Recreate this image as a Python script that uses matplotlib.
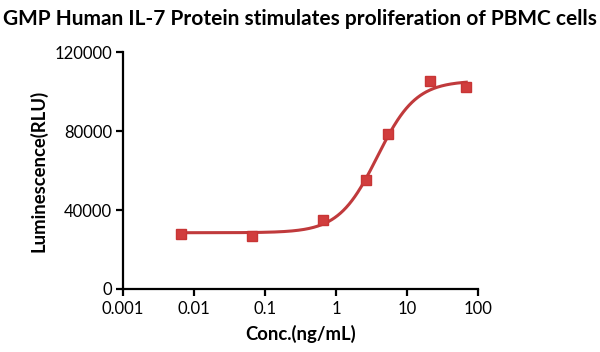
import numpy as np
import matplotlib
matplotlib.use("Agg")
import matplotlib.pyplot as plt
from matplotlib.ticker import FixedLocator, FixedFormatter, NullLocator

plt.rcParams['font.family'] = ['Lato', 'DejaVu Sans']

conc = [0.0066, 0.066, 0.66, 2.6, 5.4, 21, 68]
lum = [27900, 27000, 34900, 55200, 78500, 105300, 102300]

# 4PL fit parameters
bottom, top, ec50, hill = 28500, 105500, 3.8, 1.6

xticks = [0.001, 0.01, 0.1, 1, 10, 100]
xticklabels = ['0.001', '0.01', '0.1', '1', '10', '100']
yticks = [0, 40000, 80000, 120000]
yticklabels = ['0', '40000', '80000', '120000']

fig = plt.figure(figsize=(6, 3.52), dpi=100)
ax = fig.add_axes([0.205, 0.179, 0.592, 0.673])

xf = np.logspace(np.log10(min(conc)), np.log10(max(conc)), 300)
yf = bottom + (top - bottom) / (1 + (ec50 / xf) ** hill)
ax.plot(xf, yf, color='#c03a3c', lw=2.2, zorder=2)
ax.plot(conc, lum, 's', color='#d13d3d', ms=7.5, zorder=3, mec='#c83535')

ax.set_xscale('log')
ax.set_xlim(0.001, 100)
ax.set_ylim(0, 120000)
ax.xaxis.set_major_locator(FixedLocator(xticks))
ax.xaxis.set_major_formatter(FixedFormatter(xticklabels))
ax.xaxis.set_minor_locator(NullLocator())
ax.yaxis.set_major_locator(FixedLocator(yticks))
ax.yaxis.set_major_formatter(FixedFormatter(yticklabels))

for s in ['top', 'right']:
    ax.spines[s].set_visible(False)
for s in ['left', 'bottom']:
    ax.spines[s].set_linewidth(1.6)
    ax.spines[s].set_color('black')
ax.tick_params(axis='both', which='major', length=5, width=1.6, labelsize=12, direction='out', pad=3)
ax.tick_params(axis='x', pad=4)

ax.set_xlabel('Conc.(ng/mL)', fontsize=13.3, fontweight='bold', labelpad=5)
ax.set_ylabel('Luminescence(RLU)', fontsize=13.3, fontweight='bold', labelpad=5)
fig.suptitle('GMP Human IL-7 Protein stimulates proliferation of PBMC cells', fontsize=15, fontweight='bold', x=0.5, y=0.975)

fig.savefig('out.png', dpi=100)
